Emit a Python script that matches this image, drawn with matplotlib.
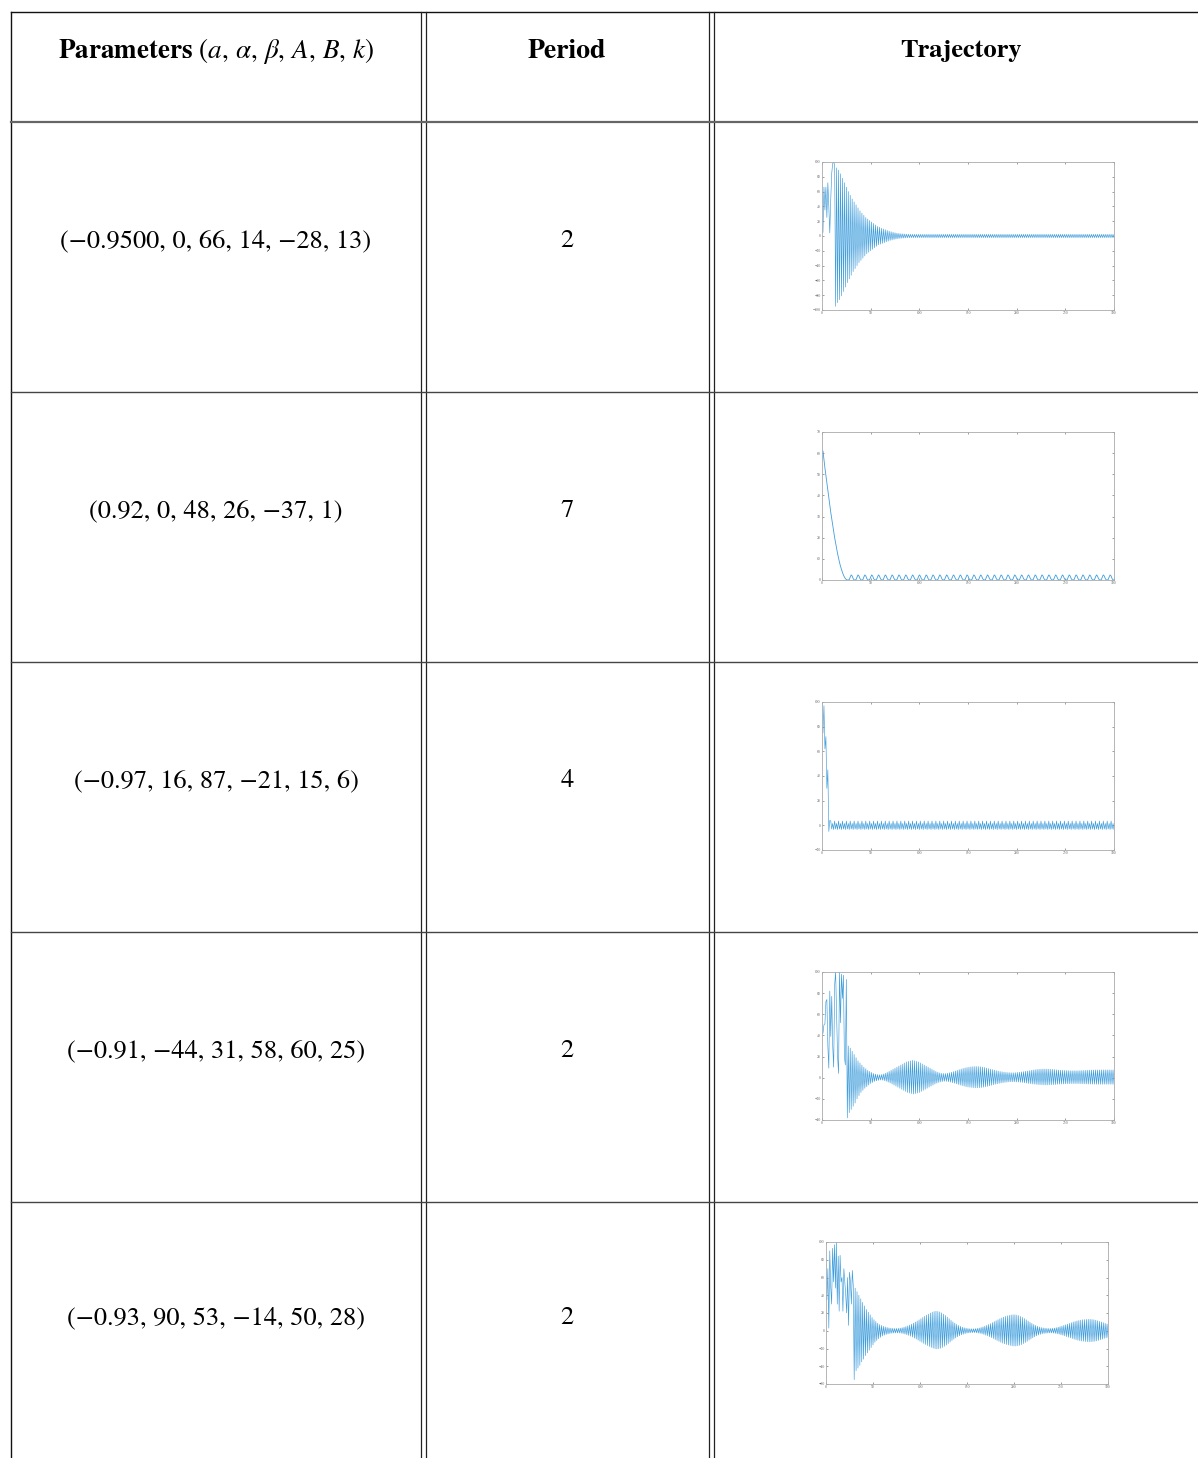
import numpy as np
import matplotlib
matplotlib.use("Agg")
import matplotlib.pyplot as plt

plt.rcParams['mathtext.fontset'] = 'stix'
plt.rcParams['font.family'] = ['STIXGeneral', 'DejaVu Serif']

W, H = 1198, 1458
n_steps = 300

# table text
header = [r"$\mathbf{Parameters}\ (a,\,\alpha,\,\beta,\,A,\,B,\,k)$", "Period", "Trajectory"]
param_labels = ["(\u22120.9500, 0, 66, 14, \u221228, 13)",
                "(0.92, 0, 48, 26, \u221237, 1)",
                "(\u22120.97, 16, 87, \u221221, 15, 6)",
                "(\u22120.91, \u221244, 31, 58, 60, 25)",
                "(\u22120.93, 90, 53, \u221214, 50, 28)"]
periods = [2, 7, 4, 2, 2]

# trajectory values (x_n for n = 1..300)
traj1_head = [5, 66, 35, 66, 25, 72, 40, 4, 50, 85, 98, 100, 96, -95]
traj1_decay = [92, -90, 89, -86, 84, -81, 78, -75, 72, -69, 66, -63, 60, -58, 55, -53, 50, -48, 46, -44,
               42, -40, 38, -36, 34, -33, 31, -30, 28, -27, 25, -24, 23, -22, 21, -20, 19, -18, 17, -16,
               15, -14, 13, -12, 12, -11, 10.5, -10, 9.5, -9, 8.5, -8, 7.5, -7, 6.5, -6, 5.8, -5.4, 5, -4.7,
               4.4, -4.1, 3.8, -3.6, 3.4, -3.2, 3.1, -3, 2.9, -2.8, 2.7, -2.6, 2.5, -2.4, 2.4, -2.3]
traj1_cycle = [2.2, -2.2]

traj2_head = [61, 57, 53, 49.5, 46, 42.5, 39, 35.5, 32, 29, 26, 23, 20, 17.5, 15, 12.5, 10.3, 8.3,
              6.5, 5, 3.6, 2.4, 1.4, 0.7, 0.2, 0]
traj2_cycle = [0, 0.2, 1.4, 2.4, 1.9, 0.7, 0.05]

traj3_head = [75, 97, 62, 72, 30, 45, -5, 4]
traj3_cycle = [3.5, -3.0, 1.5, -3.4]

traj4_head = [42, 50, 51, 72, 74, 30, 9, 82, 39, 77, 30, 10, 88, 100, 60, 20, 4, 100, 52, 98,
              75, 97, 20, 12, 93, -38]
traj4_tail = [30, -33, 28, -30, 25, -27, 22, -24, 19, -20, 16, -17, 14, -14, 12, -12, 10, -10, 8.5, -8.5,
              7, -7, 6, -5.5, 5, -4.5, 4, -3.5, 3.5, -3, 3, -2.5, 2.8, -2.2, 3, -2.3, 3.5, -2.8, 4.2, -3.4,
              5, -4.2, 6, -5, 7, -6, 8, -7, 9, -8, 10, -9, 11, -10, 12, -11, 13, -12, 14, -13,
              15, -14, 15.5, -14.5, 16, -15, 16.5, -15.5, 16, -15, 15.5, -14.5, 15, -14, 14, -13, 13, -12, 12, -11,
              11, -10, 10, -9, 9, -8, 8, -7, 7, -6, 6, -5.2, 5.2, -4.5, 4.6, -4, 4.2, -3.6, 4, -3.4,
              4, -3.5, 4.3, -3.8, 4.7, -4.2, 5.2, -4.7, 5.8, -5.2, 6.4, -5.8, 7, -6.4, 7.6, -7, 8.2, -7.5, 8.8, -8,
              9.3, -8.5, 9.7, -8.8, 10, -9.1, 10.3, -9.3, 10.5, -9.5, 10.6, -9.6, 10.6, -9.6, 10.5, -9.5, 10.4, -9.3, 10.1, -9,
              9.7, -8.6, 9.2, -8.2, 8.7, -7.7, 8.2, -7.2, 7.7, -6.7, 7.2, -6.2, 6.7, -5.8, 6.3, -5.4, 5.9, -5, 5.6, -4.7,
              5.3, -4.4, 5.1, -4.2, 4.9, -4, 4.8, -3.9, 4.7, -3.9, 4.7, -3.9, 4.8, -4, 5, -4.1, 5.2, -4.3, 5.5, -4.5,
              5.8, -4.8, 6.1, -5.1, 6.4, -5.4, 6.7, -5.6, 7, -5.9, 7.3, -6.1, 7.6, -6.3, 7.8, -6.5, 8, -6.6, 8.1, -6.7,
              8.2, -6.8, 8.2, -6.8, 8.2, -6.8, 8.1, -6.7, 8, -6.6, 7.9, -6.5, 7.7, -6.4, 7.5, -6.2, 7.3, -6.1, 7.1, -6,
              7, -5.9, 6.9, -5.8, 6.8, -5.7, 6.7, -5.7, 6.6, -5.6, 6.6, -5.6, 6.6, -5.6, 6.6, -5.6, 6.6, -5.6, 6.7, -5.7,
              6.8, -5.8, 6.9, -5.8, 7, -5.9, 7.1, -6, 7.2, -6, 7.3, -6.1, 7.3, -6.1, 7.4, -6.2, 7.4, -6.2, 7.4, -6.2,
              7.4, -6.2, 7.4, -6.2, 7.4, -6.2, 7.4, -6.2, 7.4, -6.2, 7.4, -6.2, 7.4, -6.2]

traj5_head = [35, 70, 3, 90, 50, 30, 93, 55, 97, 48, 100, 30, 84, 22, 85, 55, 60, 22, 70, 55,
              40, 20, 60, 6, 66, 55, 30, 68, 51, -55]
traj5_tail = [48, -45, 44, -42, 40, -39, 36, -35, 32, -32, 28, -28, 24, -25, 21, -22, 18, -19, 15, -16,
              12.5, -13, 10.5, -11, 8.5, -9, 7, -7.5, 6, -6, 5, -5, 4.3, -4.2, 3.7, -3.6, 3.2, -3.1, 2.9, -2.8,
              2.7, -2.6, 2.6, -2.5, 2.6, -2.5, 2.7, -2.6, 3, -2.8, 3.4, -3.2, 4, -3.8, 4.7, -4.5, 5.5, -5.3, 6.5, -6.2,
              7.5, -7.2, 8.6, -8.3, 9.8, -9.4, 11, -10.6, 12.3, -11.8, 13.6, -13, 15, -14.3, 16.3, -15.5, 17.6, -16.7, 18.8, -17.8,
              20, -18.8, 21, -19.6, 21.7, -20.2, 22, -20.5, 21.8, -20.3, 21.2, -19.8, 20.2, -18.9, 18.8, -17.6, 17.2, -16.1, 15.4, -14.5,
              13.6, -12.8, 11.8, -11.1, 10.1, -9.5, 8.6, -8.1, 7.2, -6.8, 6, -5.7, 5, -4.7, 4.1, -3.9, 3.4, -3.2, 2.9, -2.7,
              2.5, -2.4, 2.3, -2.2, 2.2, -2.1, 2.2, -2.1, 2.4, -2.3, 2.7, -2.6, 3.1, -3, 3.7, -3.5, 4.4, -4.2, 5.2, -5,
              6.1, -5.8, 7.1, -6.8, 8.1, -7.8, 9.2, -8.8, 10.3, -9.9, 11.4, -11, 12.5, -12, 13.5, -13, 14.5, -14, 15.4, -14.8,
              16.2, -15.5, 16.9, -16.1, 17.4, -16.6, 17.8, -17, 18, -17.2, 18, -17.2, 17.7, -16.9, 17.1, -16.4, 16.2, -15.6, 15.1, -14.5,
              13.8, -13.3, 12.4, -12, 11, -10.6, 9.6, -9.3, 8.3, -8, 7.1, -6.9, 6, -5.8, 5.1, -4.9, 4.3, -4.1, 3.7, -3.5,
              3.2, -3.1, 2.9, -2.8, 2.7, -2.6, 2.6, -2.5, 2.6, -2.5, 2.8, -2.7, 3.1, -3, 3.5, -3.4, 4, -3.9, 4.6, -4.5,
              5.3, -5.1, 6, -5.8, 6.8, -6.6, 7.6, -7.3, 8.4, -8.1, 9.1, -8.8, 9.8, -9.5, 10.5, -10.1, 11.1, -10.7, 11.6, -11.2,
              12, -11.6, 12.4, -11.9, 12.6, -12.1, 12.8, -12.3, 12.9, -12.4, 12.9, -12.4, 12.7, -12.2, 12.4, -11.9, 11.9, -11.5, 11.3, -10.9,
              10.6, -10.2, 9.9, -9.5, 9.1, -8.7, 8.3, -8, 7.6, -7.3]

ylims = [(-100, 100), (0, 70), (-20, 100), (-40, 100), (-60, 100)]
ysteps = [20, 10, 20, 20, 20]
xticks = [0, 50, 100, 150, 200, 250, 300]


def repeat_cycle(start, cycle):
    # the settled part of the orbit is a fixed cycle repeated to the end
    out = list(start)
    while len(out) < n_steps:
        out += cycle
    return out[:n_steps]


series = [repeat_cycle(traj1_head + traj1_decay, traj1_cycle),
          repeat_cycle(traj2_head, traj2_cycle),
          repeat_cycle(traj3_head, traj3_cycle),
          traj4_head + traj4_tail,
          traj5_head + traj5_tail]

fig = plt.figure(figsize=(W / 100, H / 100), dpi=100)
bg = fig.add_axes([0, 0, 1, 1])
bg.set_xlim(0, W)
bg.set_ylim(H, 0)
bg.axis("off")

# table rules
bg.plot([11, W], [12, 12], color="#111111", lw=1.0)
bg.plot([11, 11], [12, H], color="#111111", lw=1.0)
for xv in [421, 426, 709, 714]:
    bg.plot([xv, xv], [12, H], color="#222222", lw=0.9)
bg.plot([11, W], [122, 122], color="#666666", lw=1.6)
for yv in [392, 662, 932, 1202]:
    bg.plot([11, W], [yv, yv], color="#444444", lw=1.0)

fs = 19
bg.text(216, 51, header[0], ha="center", va="center", fontsize=19.5)
bg.text(567, 51, header[1], ha="center", va="center", fontsize=20, fontweight="bold")
bg.text(961, 51, header[2], ha="center", va="center", fontsize=19, fontweight="bold")

row_y = [241, 511, 781, 1051, 1318]
for i in range(5):
    bg.text(216, row_y[i], param_labels[i], ha="center", va="center", fontsize=fs)
    bg.text(567, row_y[i], str(periods[i]), ha="center", va="center", fontsize=fs)

# thumbnail boxes in pixels: left, top, right, bottom
boxes = [(822, 162, 1114, 310), (822, 432, 1114, 580), (822, 702, 1114, 850),
         (822, 972, 1114, 1120), (826, 1242, 1108, 1384)]

for i in range(5):
    l, t, r, b = boxes[i]
    ax = fig.add_axes([l / W, 1 - b / H, (r - l) / W, (b - t) / H])
    y = series[i]
    x = np.arange(1, len(y) + 1)
    ax.plot(x, y, color="#3f9ddc", lw=0.45 if i != 1 else 0.6)
    ax.set_xlim(0, 300)
    ax.set_ylim(*ylims[i])
    ax.set_xticks(xticks)
    ax.set_yticks(np.arange(ylims[i][0], ylims[i][1] + 1, ysteps[i]))
    ax.tick_params(direction="in", length=1.6, width=0.4, labelsize=2.6, colors="#555555",
                   top=True, right=True, pad=1)
    for s in ax.spines.values():
        s.set_color("#aaaaaa")
        s.set_linewidth(0.6)

fig.savefig("out.png", dpi=100)
